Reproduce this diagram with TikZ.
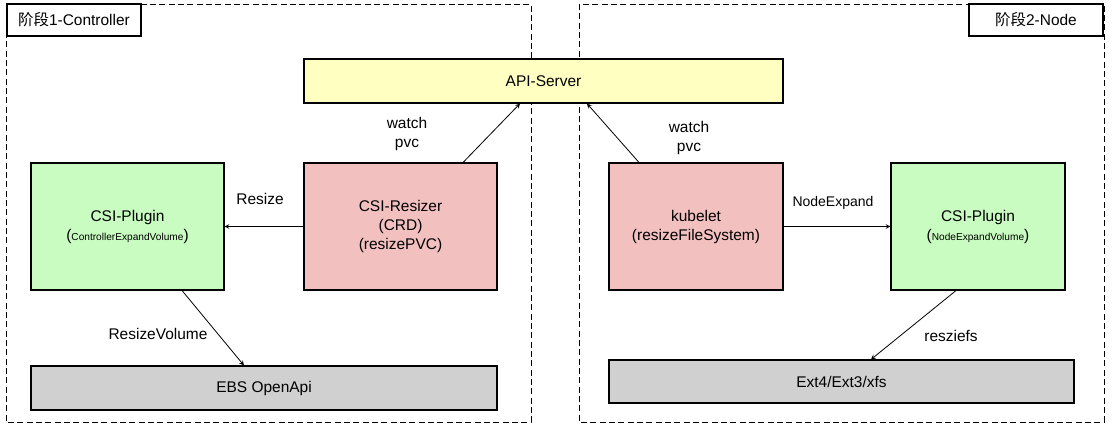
\documentclass[tikz,border=0pt]{standalone}
\usepackage{fontspec}
\setmainfont{Liberation Sans}
\newfontfamily\cjk{Noto Sans CJK SC}
\usepackage{tikz}
\definecolor{apiyellow}{RGB}{255,255,194}
\definecolor{plugingreen}{RGB}{200,252,192}
\definecolor{workerred}{RGB}{243,192,192}
\definecolor{backendgray}{RGB}{208,208,208}
\tikzstyle{comp}=[rectangle, draw, thick, inner sep=0pt, align=center, font=\fontsize{11.6}{14.25}\selectfont]
\tikzstyle{stage}=[comp, fill=white, minimum width=100.5pt, minimum height=24pt]
\tikzstyle{lbl}=[align=center, inner sep=0pt, font=\fontsize{11.6}{14}\selectfont]
\tikzstyle{panel}=[draw, dash pattern=on 4.5pt off 2.5pt]
\newcommand{\comp}{\node[comp]}
\newcommand{\lbl}{\node[lbl]}
\newcommand{\subtxt}[1]{{\fontsize{7.6}{8}\selectfont #1}}

\begin{document}
\begin{tikzpicture}[x=0.75pt, y=-0.75pt, >=stealth]
            \useasboundingbox (0,0) rectangle (1112,433);
            % two stages
            \draw[panel] (6,4) rectangle (531,422);
            \draw[panel] (579,4) rectangle (1104,422);
            \node[stage] (stage1) at (74,20) {{\cjk 阶段}1-Controller};
            \node[stage] (stage2) at (1036,20) {{\cjk 阶段}2-Node};
            % components
            \comp[fill=apiyellow, minimum width=359.25pt, minimum height=33pt] (api) at (543.5,81) {API-Server};
            \comp[fill=plugingreen, minimum width=144.75pt, minimum height=95.25pt] (plugin1) at (127.5,226.5) {CSI-Plugin\\(\subtxt{ControllerExpandVolume})};
            \comp[fill=workerred, minimum width=144.75pt, minimum height=95.25pt] (resizer) at (400.5,226.5) {CSI-Resizer\\(CRD)\\(resizePVC)};
            \comp[fill=workerred, minimum width=130.5pt, minimum height=95.25pt] (kubelet) at (696,226.5) {kubelet\\(resizeFileSystem)};
            \comp[fill=plugingreen, minimum width=130.5pt, minimum height=95.25pt] (plugin2) at (978,226.5) {CSI-Plugin\\(\subtxt{NodeExpandVolume})};
            \comp[fill=backendgray, minimum width=349.5pt, minimum height=33pt] (ebs) at (264,388) {EBS OpenApi};
            \comp[fill=backendgray, minimum width=348.75pt, minimum height=32.25pt] (fs) at (841.5,381.5) {Ext4/Ext3/xfs};
            % labels
            \lbl (l1) at (407,134) {watch\\pvc};
            \lbl (l2) at (689,138) {watch\\pvc};
            \lbl (l3) at (260,199) {Resize};
            \lbl[font=\fontsize{10.5}{12}\selectfont] (l4) at (833,203) {NodeExpand};
            \lbl (l5) at (158,334) {ResizeVolume};
            \lbl (l6) at (951,336) {resziefs};
            \path[->, semithick]
                ([xshift=46.9pt]resizer.north) edge ([xshift=-17.6pt]api.south)
                ([xshift=-42.75pt]kubelet.north) edge ([xshift=32.6pt]api.south)
                (resizer) edge (plugin1)
                (kubelet) edge (plugin2)
                ([xshift=40.9pt]plugin1.south) edge ([xshift=-15pt]ebs.north)
                ([xshift=-16.5pt]plugin2.south) edge ([xshift=22.1pt]fs.north)
            ;
        \end{tikzpicture}
\end{document}
